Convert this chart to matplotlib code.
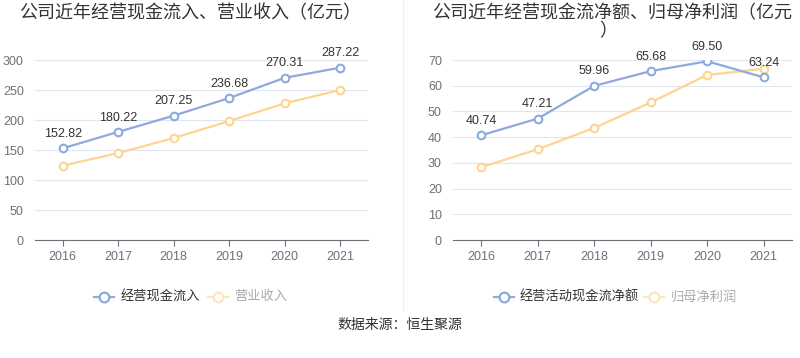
import matplotlib
matplotlib.use('Agg')
from matplotlib import pyplot as plt
from matplotlib.lines import Line2D

plt.rcParams['font.family'] = ['Liberation Sans', 'Noto Sans CJK SC', 'DejaVu Sans']

################################################################################
### Data
################################################################################
years = ['2016', '2017', '2018', '2019', '2020', '2021']

cash_inflow = [152.82, 180.22, 207.25, 236.68, 270.31, 287.22]
revenue = [123.8, 145.0, 170.0, 198.3, 227.8, 250.0]

net_cash_flow = [40.74, 47.21, 59.96, 65.68, 69.50, 63.24]
net_profit = [28.3, 35.3, 43.6, 53.5, 64.2, 66.6]

left_title = '公司近年经营现金流入、营业收入（亿元）'
right_title = ['公司近年经营现金流净额、归母净利润（亿元', '）']   # wrapped in the original
left_names = ['经营现金流入', '营业收入']
right_names = ['经营活动现金流净额', '归母净利润']
source = '数据来源：恒生聚源'

BLUE = '#8eaadc'
YELLOW = '#fdd591'
PALE = '#fde6bd'
GRID = '#e0e6f1'
AXIS = '#6e7079'

fig = plt.figure(figsize=(8, 3.58), dpi=100)


def draw_panel(rect, blue_vals, yellow_vals, ymax, ystep):
    ax = fig.add_axes(rect)
    x = range(len(years))
    ax.plot(x, yellow_vals, color=YELLOW, lw=1.6, marker='o', ms=5.5,
            mfc='white', mec=YELLOW, mew=1.5, zorder=3)
    ax.plot(x, blue_vals, color=BLUE, lw=1.6, marker='o', ms=5.5,
            mfc='white', mec=BLUE, mew=1.5, zorder=4)
    for i, v in enumerate(blue_vals):
        ax.annotate('%.2f' % v, (i, v), xytext=(0, 6), textcoords='offset points',
                    ha='center', va='bottom', fontsize=9, color='#333333', zorder=5)
    ax.set_xlim(-0.5, len(years) - 0.5)
    ax.set_ylim(0, ymax)
    ax.set_yticks(range(0, ymax + 1, ystep))
    ax.set_xticks(list(x))
    ax.set_xticklabels(years)
    ax.yaxis.grid(True, color=GRID, lw=0.8)
    ax.set_axisbelow(True)
    for s in ['top', 'right', 'left']:
        ax.spines[s].set_visible(False)
    ax.spines['bottom'].set_color(AXIS)
    ax.tick_params(axis='y', length=0, labelsize=9, labelcolor=AXIS, pad=8)
    ax.tick_params(axis='x', length=4, color=AXIS, labelsize=9, labelcolor=AXIS, pad=4)
    ax.patch.set_alpha(0)
    return ax


draw_panel([0.04375, 0.3296, 0.41625, 0.5028], cash_inflow, revenue, 300, 50)
draw_panel([0.56625, 0.3296, 0.42375, 0.5028], net_cash_flow, net_profit, 70, 10)

fig.text(0.237, 1 - 13.5 / 358, left_title, ha='center', va='center', fontsize=13, color='#333333')
fig.text(0.765, 1 - 13.5 / 358, right_title[0], ha='center', va='center', fontsize=13, color='#333333')
fig.text(0.76, 1 - 31.5 / 358, right_title[1], ha='center', va='center', fontsize=13, color='#333333')

# divider between panels
fig.add_artist(Line2D([0.504, 0.504], [0.135, 1.0], color='#eeeeee', lw=0.8))


def legend_item(x, label, color, text_color):
    y = 1 - 297 / 358
    fig.add_artist(Line2D([x, x + 0.025], [y, y], color=color, lw=1.6))
    fig.add_artist(Line2D([x + 0.0125], [y], color=color, marker='o', ms=7,
                          mfc='white', mec=color, mew=1.6))
    fig.text(x + 0.033, y, label, ha='left', va='center', fontsize=9.5, color=text_color)


legend_item(0.118, left_names[0], BLUE, '#333333')
legend_item(0.26, left_names[1], PALE, '#aaaaaa')
legend_item(0.617, right_names[0], BLUE, '#333333')
legend_item(0.805, right_names[1], PALE, '#aaaaaa')

fig.text(0.5, 1 - 325 / 358, source, ha='center', va='center', fontsize=10, color='#333333')

fig.savefig('out.png', dpi=100)
